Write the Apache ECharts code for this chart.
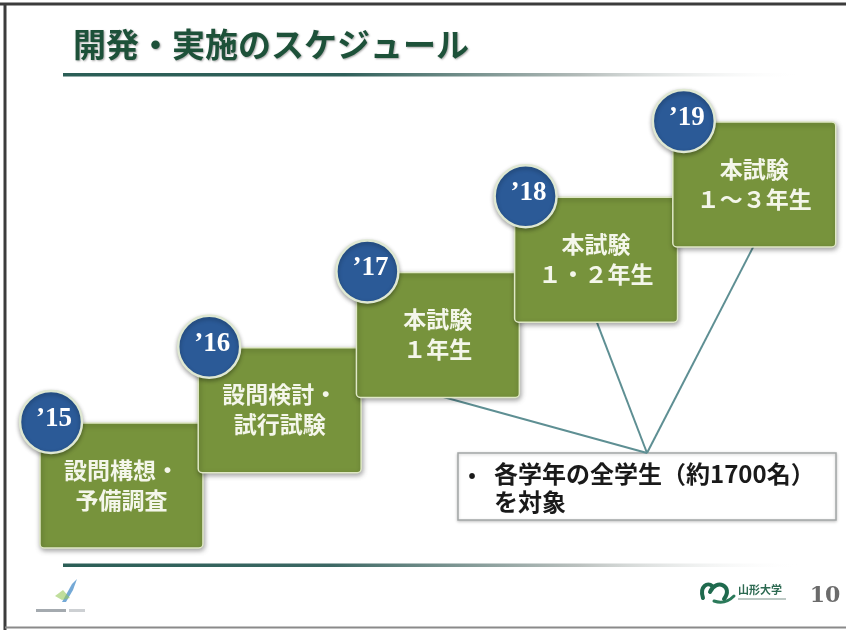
<!DOCTYPE html>
<html><head><meta charset="utf-8">
<script src="https://cdn.jsdelivr.net/npm/echarts@6/dist/echarts.min.js"></script>
<style>html,body{margin:0;padding:0;background:#fff}#c{width:846px;height:630px}</style>
</head><body><div id="c"></div><script>
// ---- data ----
const years = [2015, 2016, 2017, 2018, 2019];
const yearLabels = ['’15', '’16', '’17', '’18', '’19'];
const steps = [0, 1, 2, 3, 4];
const stageLine1 = ['設問構想・', '設問検討・', '本試験', '本試験', '本試験'];
const stageLine2 = ['予備調査', '試行試験', '１年生', '１・２年生', '１～３年生'];
const linked = [false, false, true, true, true];
const titleText = '開発・実施のスケジュール';
const noteLines = ['各学年の全学生（約1700名）', 'を対象'];
const pageNumber = '10';
const uniName = '山形大学';

// ---- styles / geometry ----
const BOX_W = 1.03, BOX_H = 1.66;
const ANCHOR = [647, 453];
const JP = '"Noto Sans CJK JP", "Noto Sans", sans-serif';

function renderItem(params, api) {
  const i = params.dataIndex;
  const yr = api.value(0), lv = api.value(1);
  const tl = api.coord([yr, lv]);
  const br = api.coord([yr + BOX_W, lv - BOX_H]);
  const w = br[0] - tl[0], h = br[1] - tl[1];
  const cx = tl[0] + w / 2;
  const ch = [];
  if (linked[i]) {
    ch.push({type: 'line', shape: {x1: cx, y1: br[1] - 2, x2: ANCHOR[0], y2: ANCHOR[1]},
      style: {stroke: '#5e8f93', lineWidth: 2}});
  }
  ch.push({type: 'rect', shape: {x: tl[0], y: tl[1], width: w, height: h, r: 4},
    style: {fill: '#77933c', stroke: '#dfe8c6', lineWidth: 1.5,
      shadowBlur: 5, shadowOffsetX: 1, shadowOffsetY: 2, shadowColor: 'rgba(0,0,0,0.35)'}});
  ch.push({type: 'text', style: {x: cx, y: tl[1] + 47, text: stageLine1[i], align: 'center', verticalAlign: 'middle',
    fill: '#f4f6ea', font: 'bold 23px ' + JP}});
  ch.push({type: 'text', style: {x: cx, y: tl[1] + 77, text: stageLine2[i], align: 'center', verticalAlign: 'middle',
    fill: '#f4f6ea', font: 'bold 23px ' + JP}});
  const ccx = tl[0] + 11, ccy = tl[1] - 1;
  ch.push({type: 'circle', shape: {cx: ccx, cy: ccy, r: 31},
    style: {fill: '#2b5a97', stroke: '#dfe8d2', lineWidth: 2.5,
      shadowBlur: 4, shadowOffsetY: 2, shadowColor: 'rgba(0,0,0,0.3)'}});
  ch.push({type: 'text', style: {x: ccx + 3, y: ccy - 3, text: yearLabels[i], align: 'center', verticalAlign: 'middle',
    fill: '#ffffff', font: 'bold 27px "Liberation Serif", "DejaVu Serif", serif'}});
  return {type: 'group', children: ch};
}

const chart = echarts.init(document.getElementById('c'), null, {renderer: 'canvas'});
chart.setOption({
  backgroundColor: '#ffffff',
  animation: false,
  grid: {left: 40, right: 15, top: 46.75, bottom: 207},
  xAxis: {type: 'value', min: 2015, max: 2020, show: false},
  yAxis: {type: 'value', min: 0, max: 5, show: false},
  series: [{
    type: 'custom',
    clip: false,
    renderItem: renderItem,
    data: years.map((y, k) => [y, steps[k]])
  }],
  graphic: [
    // slide frame
    {type: 'line', shape: {x1: 0, y1: 4, x2: 846, y2: 4}, style: {stroke: '#3c3c3c', lineWidth: 3}, z: 10},
    {type: 'line', shape: {x1: 5, y1: 3, x2: 5, y2: 630}, style: {stroke: '#3c3c3c', lineWidth: 3}, z: 10},
    {type: 'line', shape: {x1: 5, y1: 627.5, x2: 846, y2: 627.5}, style: {stroke: '#8a8a8a', lineWidth: 2}, z: 10},
    // title
    {type: 'text', x: 73, y: 44, style: {text: titleText, font: 'bold 33px ' + JP, fill: '#1d5139',
      verticalAlign: 'middle', textShadowColor: 'rgba(0,0,0,0.35)', textShadowBlur: 2, textShadowOffsetX: 1, textShadowOffsetY: 1}},
    {type: 'rect', shape: {x: 63, y: 73, width: 740, height: 3.5},
      style: {fill: new echarts.graphic.LinearGradient(0, 0, 1, 0, [
        {offset: 0, color: '#2b5e56'}, {offset: 0.38, color: '#2f605a'},
        {offset: 0.7, color: '#b4bcba'}, {offset: 1, color: 'rgba(255,255,255,0)'}])}},
    // bottom line
    {type: 'rect', shape: {x: 63, y: 563.5, width: 740, height: 3.5},
      style: {fill: new echarts.graphic.LinearGradient(0, 0, 1, 0, [
        {offset: 0, color: '#2b5e56'}, {offset: 0.36, color: '#3b6763'},
        {offset: 0.7, color: '#bcc2c0'}, {offset: 1, color: 'rgba(255,255,255,0)'}])}},
    // note box
    {type: 'rect', shape: {x: 458, y: 453, width: 378, height: 67},
      style: {fill: '#ffffff', stroke: '#a3a6a6', lineWidth: 1.5, shadowBlur: 3, shadowOffsetY: 1, shadowColor: 'rgba(0,0,0,0.2)'}},
    {type: 'text', x: 472, y: 474, style: {text: '•', font: 'bold 20px ' + JP, fill: '#1a1a1a', align: 'center', verticalAlign: 'middle'}},
    {type: 'text', x: 494, y: 474, style: {text: noteLines[0], font: 'bold 24px ' + JP, fill: '#1a1a1a', verticalAlign: 'middle'}},
    {type: 'text', x: 494, y: 502, style: {text: noteLines[1], font: 'bold 24px ' + JP, fill: '#1a1a1a', verticalAlign: 'middle'}},
    // bottom-left small logo
    {type: 'polygon', shape: {points: [[62, 602], [72, 584], [77, 579], [73, 590], [66, 602]]}, style: {fill: 'rgba(70,140,200,0.75)'}},
    {type: 'polygon', shape: {points: [[55, 596], [63, 590], [70, 598], [62, 600]]}, style: {fill: 'rgba(150,200,90,0.6)'}},
    {type: 'rect', shape: {x: 36, y: 609, width: 30, height: 3}, style: {fill: 'rgba(90,100,110,0.55)'}},
    {type: 'rect', shape: {x: 69, y: 609, width: 16, height: 3}, style: {fill: 'rgba(90,100,110,0.3)'}},
    // bottom-right university logo
    {type: 'bezierCurve', shape: {x1: 703, y1: 598, cpx1: 699, cpy1: 586, x2: 712, y2: 586, cpx2: 708, cpy2: 582},
      style: {stroke: '#1f6a4e', lineWidth: 4, fill: null, lineCap: 'round'}},
    {type: 'bezierCurve', shape: {x1: 710, y1: 592, cpx1: 716, cpy1: 578, x2: 724, y2: 599, cpx2: 734, cpy2: 586},
      style: {stroke: '#1f6a4e', lineWidth: 4, fill: null, lineCap: 'round'}},
    {type: 'bezierCurve', shape: {x1: 714, y1: 601, cpx1: 722, cpy1: 604, x2: 734, y2: 596, cpx2: 729, cpy2: 601},
      style: {stroke: '#2b7a5a', lineWidth: 3, fill: null, lineCap: 'round'}},
    {type: 'text', x: 738, y: 590, style: {text: uniName, font: 'bold 11px ' + JP, fill: '#2d6a52', verticalAlign: 'middle'}},
    {type: 'rect', shape: {x: 738, y: 598, width: 48, height: 2}, style: {fill: 'rgba(90,120,110,0.4)'}},
    {type: 'text', x: 825, y: 596, style: {text: pageNumber, font: 'bold 22px "DejaVu Serif", serif', fill: '#6b6b6b', align: 'center', verticalAlign: 'middle'}}
  ]
});
</script></body></html>
